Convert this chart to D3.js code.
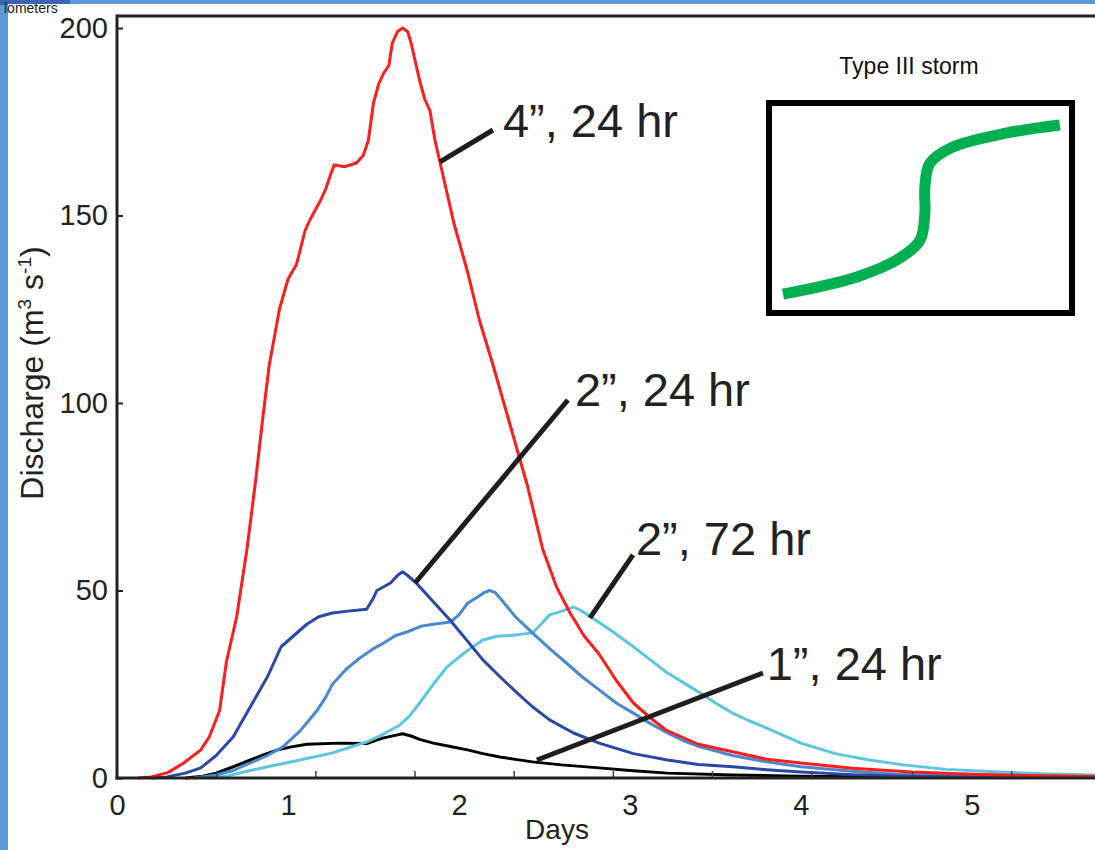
<!DOCTYPE html>
<html>
<head>
<meta charset="utf-8">
<script src="https://cdn.jsdelivr.net/npm/d3@7/dist/d3.min.js"></script>
<style>
  html, body { margin: 0; padding: 0; background: #5b9bd5; }
  svg { display: block; }
  text { font-family: "Liberation Sans", Arial, Helvetica, sans-serif; }
</style>
</head>
<body>
<svg id="chart" width="1095" height="850"></svg>
<script>
// ---------------- DATA ----------------
const xTickLabels = [0, 1, 2, 3, 4, 5];
const yTickLabels = [0, 50, 100, 150, 200];
const xMinorTicks = [0.58, 1.16, 1.74, 2.32, 2.90, 3.48, 4.06, 4.65, 5.23];

// [day, discharge m3/s]
const red4in24hr = [[0.12,0],[0.2,0.3],[0.3,1.5],[0.39,4],[0.49,7.5],[0.54,11],[0.6,18],[0.64,31],[0.7,43],[0.76,61],[0.81,79],[0.85,95],[0.89,110],[0.95,125],[1.0,133],[1.05,137],[1.1,146],[1.13,149],[1.19,154],[1.22,157],[1.25,161],[1.27,163.5],[1.33,163],[1.4,164],[1.44,166],[1.47,170],[1.5,180],[1.53,185],[1.56,188],[1.59,190],[1.61,196],[1.64,199],[1.67,200],[1.70,199],[1.72,196],[1.77,186],[1.8,181],[1.83,178],[1.86,170],[1.9,162],[1.97,148],[2.05,135],[2.12,122],[2.2,110],[2.3,94],[2.4,78],[2.49,61],[2.57,51],[2.65,44],[2.73,38],[2.82,33],[2.92,26],[3.02,20],[3.12,16],[3.21,12.8],[3.4,9],[3.6,7],[3.8,5],[4.0,4],[4.3,2.6],[4.65,1.6],[5.0,1],[5.4,0.6],[5.72,0.4]];
const darkBlue2in24hr = [[0.2,0],[0.29,0.3],[0.4,1.3],[0.49,2.7],[0.58,6],[0.68,11],[0.78,19],[0.88,27],[0.92,31],[0.96,35],[1.01,37],[1.06,39],[1.11,41],[1.18,43],[1.26,44],[1.35,44.5],[1.46,45],[1.5,48],[1.52,50],[1.56,51],[1.6,52],[1.64,54],[1.67,55],[1.70,54],[1.75,52],[1.85,47],[1.95,42],[2.05,36.5],[2.14,31.5],[2.24,27],[2.34,22.7],[2.43,19],[2.53,15.5],[2.67,12],[2.82,9.3],[3.02,6.5],[3.22,4.8],[3.4,3.6],[3.6,3],[3.8,2.2],[4.0,1.6],[4.3,0.9],[4.6,0.5],[5.0,0.3],[5.72,0.2]];
const midBlue2in = [[0.45,0],[0.58,0.8],[0.68,2],[0.78,4],[0.88,6],[0.97,8.3],[1.07,12.5],[1.17,18],[1.22,21.5],[1.26,25],[1.34,29],[1.42,32],[1.5,34.5],[1.56,36],[1.63,38],[1.7,39],[1.78,40.5],[1.85,41],[1.95,41.6],[2.0,43.5],[2.05,46.6],[2.1,48],[2.15,49.5],[2.18,50],[2.21,49.5],[2.24,48],[2.33,43],[2.43,38.7],[2.53,34.5],[2.63,30.6],[2.72,27],[2.82,23.5],[2.92,20],[3.02,17.3],[3.12,14.5],[3.22,12],[3.31,10],[3.41,8.3],[3.6,6],[3.8,4.3],[4.0,3],[4.3,1.8],[4.55,1],[5.0,0.6],[5.72,0.4]];
const cyan2in72hr = [[0.55,0],[0.64,0.5],[0.76,1.8],[0.88,3],[1.07,4.8],[1.26,6.7],[1.46,9.6],[1.55,11.5],[1.65,14],[1.71,16.5],[1.77,20],[1.85,25],[1.93,29.6],[1.98,31.5],[2.05,34],[2.14,36.8],[2.22,37.8],[2.3,38],[2.43,38.7],[2.48,41],[2.53,43.5],[2.6,44.5],[2.67,45.6],[2.72,44.5],[2.78,42.7],[2.9,39],[3.02,35],[3.12,31.5],[3.22,28],[3.31,25.5],[3.41,22.7],[3.5,20],[3.6,17.3],[3.7,15.2],[3.8,13.3],[4.0,9.3],[4.2,6.5],[4.4,4.8],[4.6,3.5],[4.85,2.3],[5.16,1.6],[5.45,1.1],[5.72,0.8]];
const black1in24hr = [[0.4,0],[0.5,0.5],[0.58,1.3],[0.68,3],[0.78,4.8],[0.86,6.2],[0.94,7.5],[1.02,8.3],[1.11,9],[1.3,9.3],[1.46,9.2],[1.51,10],[1.56,10.7],[1.62,11.3],[1.67,11.8],[1.72,11.2],[1.77,10.3],[1.85,9.3],[1.95,8.4],[2.05,7.5],[2.14,6.5],[2.24,5.6],[2.34,4.9],[2.43,4.3],[2.6,3.5],[2.82,2.7],[3.0,2],[3.22,1.3],[3.6,0.8],[4.0,0.5],[4.5,0.3],[5.72,0.2]];

const seriesList = [
  { data: black1in24hr,   color: "#000000" },
  { data: cyan2in72hr,    color: "#5ec6dc" },
  { data: midBlue2in,     color: "#4a88cf" },
  { data: darkBlue2in24hr,color: "#2c47a6" },
  { data: red4in24hr,     color: "#ff1c1c" }
];

// annotations: leader from (x1,y1) to (x2,y2), text at (tx,ty) in data units
const annotationTexts = ["4\u201D, 24 hr", "2\u201D, 24 hr", "2\u201D, 72 hr", "1\u201D, 24 hr"];
const annotationLeaders = [[1.889,164.3,2.199,172.8],[1.743,52,2.637,100.8],[2.766,42.7,3.018,59.5],[2.456,4.8,3.778,28]];
const annotationAnchors = [[2.257,170.9],[2.678,99.3],[3.035,59.5],[3.80,26.1]];

// inset: cumulative rainfall schematic, in unit coordinates
const insetTitle = "Type III storm";
const insetCurve = [[0.037,0.078],[0.285,0.162],[0.43,0.255],[0.497,0.343],[0.513,0.475],[0.513,0.603],[0.53,0.72],[0.607,0.799],[0.789,0.868],[0.966,0.907]];

// ---------------- DRAW ----------------
const svg = d3.select("#chart");

// page background
svg.append("rect").attr("x", 0).attr("y", 0).attr("width", 1095).attr("height", 850).attr("fill", "#5b9bd5");
svg.append("rect").attr("x", 0).attr("y", 0).attr("width", 70).attr("height", 5).attr("fill", "#3c63b4");
svg.append("rect").attr("x", 8).attr("y", 4).attr("width", 1087).attr("height", 846).attr("fill", "#ffffff");
svg.append("text").attr("x", 4).attr("y", 13).attr("font-size", 14).attr("fill", "#222").text("lometers");

const x = d3.scaleLinear().domain([0, 5.72]).range([117, 1095]);
const y = d3.scaleLinear().domain([0, 203.2]).range([778, 16]);

// top frame line
svg.append("line").attr("x1", x(0)).attr("x2", x(5.72)).attr("y1", y(203.2)).attr("y2", y(203.2))
  .attr("stroke", "#222").attr("stroke-width", 3);

// curves
const line = d3.line().x(d => x(d[0])).y(d => y(d[1])).curve(d3.curveLinear);
svg.append("g").selectAll("path").data(seriesList).join("path")
  .attr("d", d => line(d.data))
  .attr("fill", "none")
  .attr("stroke", d => d.color)
  .attr("stroke-width", 3)
  .attr("stroke-linejoin", "round");

// y axis
const yAxis = svg.append("g").attr("transform", `translate(${x(0)},0)`)
  .call(d3.axisLeft(y).tickValues(yTickLabels).tickSize(-6).tickSizeOuter(0).tickPadding(9));
yAxis.select(".domain").remove();
yAxis.selectAll(".tick line").attr("stroke", "#222").attr("stroke-width", 2);
yAxis.selectAll(".tick text").attr("font-size", 29).attr("fill", "#222")
  .attr("font-family", "'Liberation Sans', Arial, sans-serif");
svg.append("line").attr("x1", x(0)).attr("x2", x(0)).attr("y1", y(203.2) - 1.5).attr("y2", y(0) + 1.5)
  .attr("stroke", "#222").attr("stroke-width", 3);

// x axis: labels
const xAxis = svg.append("g").attr("transform", `translate(0,${y(0)})`)
  .call(d3.axisBottom(x).tickValues(xTickLabels).tickSize(0).tickPadding(16).tickFormat(d3.format("d")));
xAxis.select(".domain").remove();
xAxis.selectAll(".tick text").attr("font-size", 29).attr("fill", "#222")
  .attr("font-family", "'Liberation Sans', Arial, sans-serif");
// x axis: minor inward ticks
const xMinor = svg.append("g").attr("transform", `translate(0,${y(0)})`)
  .call(d3.axisBottom(x).tickValues(xMinorTicks).tickSize(-7).tickFormat(""));
xMinor.select(".domain").remove();
xMinor.selectAll(".tick line").attr("stroke", "#444").attr("stroke-width", 1.5);
svg.append("line").attr("x1", x(0) - 1.5).attr("x2", x(5.72)).attr("y1", y(0)).attr("y2", y(0))
  .attr("stroke", "#222").attr("stroke-width", 3);

// axis titles
svg.append("text").attr("x", 557).attr("y", 839).attr("text-anchor", "middle")
  .attr("font-size", 28).attr("fill", "#222").text("Days");
const yt = svg.append("text").attr("transform", "translate(43,373) rotate(-90)")
  .attr("text-anchor", "middle").attr("font-size", 32).attr("fill", "#222");
yt.append("tspan").text("Discharge (m");
yt.append("tspan").attr("font-size", 19).attr("dy", -12).text("3");
yt.append("tspan").attr("dy", 12).text(" s");
yt.append("tspan").attr("font-size", 19).attr("dy", -12).text("-1");
yt.append("tspan").attr("dy", 12).text(")");

// annotations
svg.append("g").selectAll("line").data(annotationLeaders).join("line")
  .attr("x1", d => x(d[0])).attr("y1", d => y(d[1]))
  .attr("x2", d => x(d[2])).attr("y2", d => y(d[3]))
  .attr("stroke", "#1e1e1e").attr("stroke-width", 5);
svg.append("g").selectAll("text").data(annotationTexts).join("text")
  .attr("x", (d, i) => x(annotationAnchors[i][0]))
  .attr("y", (d, i) => y(annotationAnchors[i][1]))
  .attr("font-size", 47).attr("fill", "#222")
  .text(d => d);

// inset
const ix = d3.scaleLinear().domain([0, 1]).range([772, 1070]);
const iy = d3.scaleLinear().domain([0, 1]).range([310, 106]);
svg.append("text").attr("x", 909).attr("y", 74).attr("text-anchor", "middle")
  .attr("font-size", 23).attr("fill", "#111").text(insetTitle);
svg.append("rect").attr("x", 769).attr("y", 103).attr("width", 303).attr("height", 210)
  .attr("fill", "#fff").attr("stroke", "#000").attr("stroke-width", 6);
svg.append("path")
  .attr("d", d3.line().x(d => ix(d[0])).y(d => iy(d[1])).curve(d3.curveCatmullRom.alpha(0.5))(insetCurve))
  .attr("fill", "none").attr("stroke", "#00b050").attr("stroke-width", 11);
</script>
</body>
</html>
